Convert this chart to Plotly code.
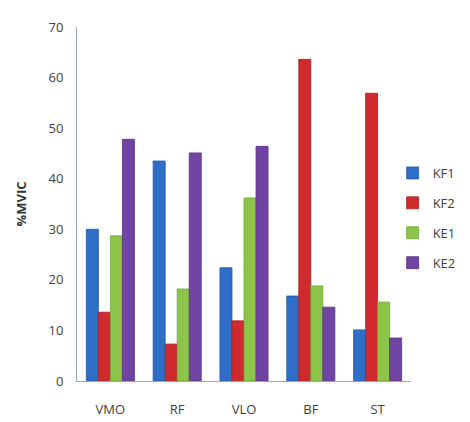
import plotly.graph_objects as go

categories = ["VMO", "RF", "VLO", "BF", "ST"]
kf1 = [30.0, 43.5, 22.4, 16.8, 10.1]
kf2 = [13.6, 7.3, 11.9, 63.6, 56.9]
ke1 = [28.7, 18.2, 36.2, 18.8, 15.6]
ke2 = [47.8, 45.1, 46.4, 14.6, 8.5]
y_ticks = [0, 10, 20, 30, 40, 50, 60, 70]

series = [
    ("KF1", kf1, "#2f6ec6", "#245aa6"),
    ("KF2", kf2, "#cf2b2f", "#a82024"),
    ("KE1", ke1, "#8dc44a", "#74a83a"),
    ("KE2", ke2, "#7044a2", "#5a3486"),
]

fig = go.Figure()
for name, vals, col, edge in series:
    fig.add_trace(go.Bar(
        x=categories, y=vals, name=name, legendgroup=name,
        marker=dict(color=col, line=dict(color=edge, width=0.8)),
    ))

font = "Open Sans, Noto Sans, sans-serif"
fig.update_layout(
    width=462, height=414,
    margin=dict(l=69, r=59, t=19, b=41, autoexpand=False),
    barmode="group", bargap=0.28, bargroupgap=0,
    plot_bgcolor="white", paper_bgcolor="white",
    font=dict(family=font, size=13, color="#404040"),
    showlegend=True,
    legend=dict(x=0.945, y=0.63, xanchor="left", yanchor="top",
                font=dict(size=13, color="#404040"), tracegroupgap=10,
                itemwidth=30, bgcolor="rgba(0,0,0,0)"),
    xaxis=dict(showline=True, linecolor="#9aa7b8", linewidth=1,
               ticks="", showgrid=False, tickfont=dict(size=13),
               ticklabelstandoff=16, automargin=False),
    yaxis=dict(range=[0, 70], tickvals=y_ticks, showline=True,
               linecolor="#9aa7b8", linewidth=1, showgrid=False,
               ticks="", zeroline=False, tickfont=dict(size=13),
               ticklabelstandoff=10, automargin=False,
               title=dict(text="<b>%MVIC</b>", font=dict(size=13, color="#333"), standoff=18)),
)

fig.write_html("out.html")
